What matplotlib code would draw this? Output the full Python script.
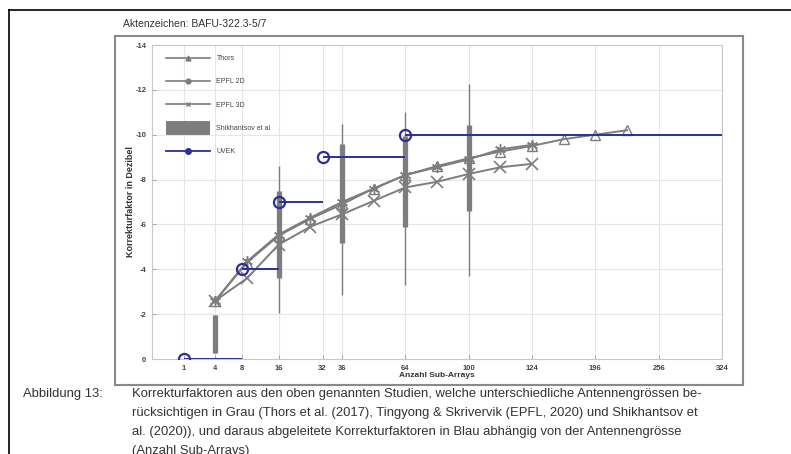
import numpy as np
import matplotlib.pyplot as plt
from matplotlib.lines import Line2D
from matplotlib.patches import Rectangle

plt.rcParams['font.family'] = ['Liberation Sans', 'DejaVu Sans']
plt.rcParams['axes.unicode_minus'] = False

# Korrekturfaktoren (dB) per number of sub-arrays
thors_x = [4, 9, 16, 25, 36, 49, 64, 81, 100, 121, 144, 169, 196, 225]
thors_y = [-2.6, -4.3, -5.5, -6.25, -6.9, -7.6, -8.2, -8.6, -8.95, -9.25, -9.5, -9.8, -10.0, -10.2]

epfl2d_x = [4, 9, 16, 25, 36, 49, 64, 81, 100, 121, 144]
epfl2d_y = [-2.6, -4.35, -5.55, -6.3, -7.0, -7.6, -8.2, -8.55, -8.9, -9.35, -9.55]

epfl3d_x = [4, 9, 16, 25, 36, 49, 64, 81, 100, 121, 144]
epfl3d_y = [-2.6, -3.6, -5.1, -5.9, -6.45, -7.05, -7.65, -7.9, -8.25, -8.55, -8.7]

shik_x = [4, 16, 36, 64, 100]
shik_q_lo = [-0.25, -3.6, -5.15, -5.9, -6.6]
shik_q_hi = [-1.95, -7.5, -9.6, -9.95, -10.45]
shik_w_lo = [-0.25, -2.05, -2.85, -3.3, -3.7]
shik_w_hi = [-1.95, -8.6, -10.5, -11.0, -12.25]

uvek_x = [1, 8, 16, 29, 64]
uvek_y = [0, -4, -7, -9, -10]
uvek_end = 324

xtick_vals = [1, 4, 8, 16, 29, 36, 64, 100, 144, 196, 256, 324]
xtick_labels = ['1', '4', '8', '16', '32', '36', '64', '100', '124', '196', '256', '324']
ytick_vals = [0, -2, -4, -6, -8, -10, -12, -14]

W, H = 791, 454
fig = plt.figure(figsize=(W / 100, H / 100), dpi=100)


def fx(px):
    return px / W


def fy(py):
    return 1 - py / H


# page borders
fig.add_artist(Line2D([fx(9), 1], [fy(10), fy(10)], color='black', lw=1.2))
fig.add_artist(Line2D([fx(9), fx(9)], [fy(10), 0], color='black', lw=1.2))
fig.add_artist(Rectangle((fx(115), fy(385)), fx(743) - fx(115), fy(36) - fy(385),
                         fill=False, edgecolor='#8a8a8a', lw=1.5))

fig.text(fx(123), fy(24), 'Aktenzeichen: BAFU-322.3-5/7', fontsize=7.5,
         color='#333333', va='center')

ax = fig.add_axes([fx(152), fy(359), fx(722) - fx(152), fy(45) - fy(359)])
ax.set_xscale('function', functions=(lambda v: np.sqrt(np.clip(v, 0, None)),
                                     lambda v: np.square(v)))
ax.set_xlim(0, 324)
ax.set_ylim(0, -14)

gray = '#7d7d7d'
navy = '#2e2e96'

# Shikhantsov et al: whiskers and interquartile bars
ax.vlines(shik_x, shik_w_lo, shik_w_hi, color=gray, lw=1.0, zorder=2)
ax.vlines(shik_x, shik_q_lo, shik_q_hi, color=gray, lw=3.8, zorder=2)

ax.plot(thors_x, thors_y, color=gray, lw=1.4, marker='^', ms=7,
        mfc='none', mec=gray, mew=1.0, zorder=3)
ax.plot(epfl2d_x, epfl2d_y, color=gray, lw=1.4, marker=(6, 2, 0), ms=8,
        mec=gray, mew=1.0, zorder=3)
ax.plot(epfl3d_x, epfl3d_y, color=gray, lw=1.4, marker='x', ms=8,
        mec=gray, mew=1.2, zorder=3)

# UVEK step values
ux_end = uvek_x[1:] + [uvek_end]
ax.hlines(uvek_y, uvek_x, ux_end, color=navy, lw=1.4, zorder=4)
ax.plot(uvek_x, uvek_y, ls='none', marker='o', ms=8, mfc='none',
        mec=navy, mew=1.6, zorder=5)

ax.set_xticks(xtick_vals)
ax.set_xticklabels(xtick_labels)
ax.set_yticks(ytick_vals)
ax.set_yticklabels([str(v) for v in ytick_vals])
ax.tick_params(direction='in', length=3, width=0.6, color='#9a9a9a',
               labelsize=5.5, labelcolor='#444444', pad=4)
for lab in ax.get_xticklabels() + ax.get_yticklabels():
    lab.set_fontweight('bold')
ax.grid(True, color='#e6e6e6', lw=0.8)
ax.set_axisbelow(True)
for s in ax.spines.values():
    s.set_color('#c8c8c8')
    s.set_linewidth(0.8)

ax.set_xlabel('Anzahl Sub-Arrays', fontsize=6, fontweight='bold',
              color='#333333', labelpad=0)
ax.set_ylabel('Korrekturfaktor in Dezibel', fontsize=6.5, fontweight='bold',
              color='#333333', labelpad=0)

handles = [
    Line2D([], [], color=gray, lw=1.2, marker='^', ms=3.5, mfc=gray),
    Line2D([], [], color=gray, lw=1.2, marker='o', ms=3.5),
    Line2D([], [], color=gray, lw=1.2, marker='x', ms=3.5),
    Line2D([], [], color=gray, lw=10, solid_capstyle='butt'),
    Line2D([], [], color=navy, lw=1.3, marker='o', ms=4),
]
labels = ['Thors', 'EPFL 2D', 'EPFL 3D', 'Shikhantsov et al', 'UVEK']
leg = ax.legend(handles, labels, loc='upper left', bbox_to_anchor=(0.012, 0.99),
                frameon=False, fontsize=5, handlelength=6.4, handletextpad=0.9,
                labelspacing=2.35, borderaxespad=0.6)
for t in leg.get_texts():
    t.set_color('#444444')

# caption
cap_col = '#333333'
fig.text(fx(23), fy(394), 'Abbildung 13:', fontsize=9.4, color=cap_col, va='center')
caption = [
    'Korrekturfaktoren aus den oben genannten Studien, welche unterschiedliche Antennengrössen be-',
    'rücksichtigen in Grau (Thors et al. (2017), Tingyong & Skrivervik (EPFL, 2020) und Shikhantsov et',
    'al. (2020)), und daraus abgeleitete Korrekturfaktoren in Blau abhängig von der Antennengrösse',
    '(Anzahl Sub-Arrays)',
]
for i, line in enumerate(caption):
    fig.text(fx(132), fy(394 + 19.0 * i), line, fontsize=9.4, color=cap_col, va='center')

fig.savefig('out.png', dpi=100)
